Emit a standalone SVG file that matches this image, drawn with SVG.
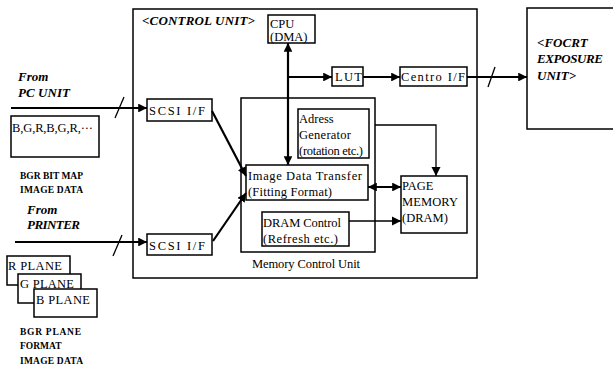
<svg xmlns="http://www.w3.org/2000/svg" width="613" height="370" viewBox="0 0 613 370">
<style>
.box{fill:#fff;stroke:#000;stroke-width:1.5}
.t{font-family:"Liberation Serif","Times New Roman",serif;font-size:12.5px;fill:#000}
.ti{font-family:"Liberation Serif","Times New Roman",serif;font-size:13px;font-style:italic;font-weight:bold;fill:#000}
.tb{font-family:"Liberation Serif","Times New Roman",serif;font-size:9.5px;font-weight:bold;fill:#000}
.thick{stroke:#000;stroke-width:2.2;fill:none}
.thin{stroke:#000;stroke-width:1.3;fill:none}
</style>
<defs>
<marker id="a" viewBox="0 0 10 10" refX="10" refY="5" markerWidth="4" markerHeight="4" orient="auto-start-reverse" markerUnits="strokeWidth"><path d="M0,0 L10,5 L0,10 z" fill="#000"/></marker>
<marker id="b" viewBox="0 0 10 10" refX="10" refY="5" markerWidth="7" markerHeight="7" orient="auto-start-reverse" markerUnits="strokeWidth"><path d="M0,0 L10,5 L0,10 z" fill="#000"/></marker>
</defs>
<rect width="613" height="370" fill="#fff"/>

<g id="control-unit">
<rect class="box" x="133" y="9" width="344" height="269"/>
<text class="ti" x="142" y="25" textLength="113">&lt;CONTROL UNIT&gt;</text>
</g>
<g id="memory-control-unit">
<rect class="box" x="241" y="98" width="134" height="154"/>
<text class="t" x="252" y="268" textLength="108">Memory Control Unit</text>
</g>
<g id="cpu">
<rect class="box" x="268" y="15" width="47" height="28"/>
<text class="t" x="270" y="28">CPU</text>
<text class="t" x="270" y="41">(DMA)</text>
</g>
<g id="lut">
<rect class="box" x="332" y="67" width="31" height="19"/>
<text class="t" x="335" y="81" textLength="27">LUT</text>
</g>
<g id="centro">
<rect class="box" x="400" y="67" width="67" height="19"/>
<text class="t" x="401" y="81" font-size="11.5" textLength="64">Centro I/F</text>
</g>
<g id="focrt">
<rect class="box" x="527" y="8" width="90" height="121"/>
<text class="ti" x="537" y="47">&lt;FOCRT</text>
<text class="ti" x="537" y="63" textLength="66">EXPOSURE</text>
<text class="ti" x="537" y="80">UNIT&gt;</text>
</g>
<g id="address-generator">
<rect class="box" x="298" y="109" width="71" height="49"/>
<text class="t" x="299" y="123" font-size="12">Adress</text>
<text class="t" x="299" y="139" font-size="12" textLength="52">Generator</text>
<text class="t" x="299" y="155" font-size="12" textLength="64">(rotation etc.)</text>
</g>
<g id="image-data-transfer">
<rect class="box" x="246" y="165" width="122" height="35"/>
<text class="t" x="248" y="180" textLength="114">Image Data Transfer</text>
<text class="t" x="248" y="196" textLength="84">(Fitting Format)</text>
</g>
<g id="dram-control">
<rect class="box" x="262" y="212" width="87" height="34"/>
<text class="t" x="263" y="227" textLength="78">DRAM Control</text>
<text class="t" x="263" y="243" textLength="75">(Refresh etc.)</text>
</g>
<g id="page-memory">
<rect class="box" x="401" y="176" width="66" height="57"/>
<text class="t" x="402" y="190">PAGE</text>
<text class="t" x="402" y="206" textLength="56">MEMORY</text>
<text class="t" x="402" y="222">(DRAM)</text>
</g>
<g id="scsi1">
<rect class="box" x="147" y="99" width="65" height="22"/>
<text class="t" x="149" y="115" textLength="56">SCSI I/F</text>
</g>
<g id="scsi2">
<rect class="box" x="147" y="234" width="65" height="21"/>
<text class="t" x="149" y="250" textLength="56">SCSI I/F</text>
</g>
<g id="pc-source">
<text class="ti" x="18" y="81">From</text>
<text class="ti" x="18" y="97" textLength="52">PC UNIT</text>
<rect class="box" x="11" y="116" width="88" height="41"/>
<text class="t" x="12" y="132" font-size="12" textLength="81">B,G,R,B,G,R,···</text>
<text class="tb" x="20" y="179" textLength="63">BGR BIT MAP</text>
<text class="tb" x="20" y="193" textLength="63">IMAGE DATA</text>
</g>
<g id="printer-source">
<text class="ti" x="27" y="214">From</text>
<text class="ti" x="27" y="229" textLength="53">PRINTER</text>
<rect class="box" x="7" y="256" width="63" height="29"/>
<text class="t" x="8" y="270" font-size="13" textLength="54">R PLANE</text>
<rect class="box" x="18" y="274" width="63" height="29"/>
<text class="t" x="20" y="288" font-size="13" textLength="54">G PLANE</text>
<rect class="box" x="34" y="289" width="63" height="28"/>
<text class="t" x="36" y="304" font-size="13" textLength="54">B PLANE</text>
<text class="tb" x="20" y="335" textLength="61">BGR PLANE</text>
<text class="tb" x="20" y="349">FORMAT</text>
<text class="tb" x="20" y="364" textLength="63">IMAGE DATA</text>
</g>

<g id="connectors">
<line class="thick" x1="11" y1="108" x2="147" y2="108" marker-end="url(#a)"/>
<line class="thin" x1="115" y1="118" x2="124" y2="97"/>
<line class="thick" x1="15" y1="242" x2="147" y2="242" marker-end="url(#a)"/>
<line class="thin" x1="113" y1="256" x2="122" y2="235"/>
<line class="thick" x1="212" y1="111" x2="246" y2="176" marker-end="url(#a)"/>
<line class="thick" x1="213" y1="241" x2="246" y2="193" marker-end="url(#a)"/>
<line class="thick" x1="288" y1="43" x2="288" y2="165" marker-start="url(#a)" marker-end="url(#a)"/>
<line class="thick" x1="288" y1="77" x2="332" y2="77" marker-end="url(#a)"/>
<line class="thick" x1="363" y1="77" x2="400" y2="77" marker-end="url(#a)"/>
<line class="thick" x1="467" y1="77" x2="527" y2="77" marker-end="url(#a)"/>
<line class="thin" x1="488" y1="87" x2="495" y2="67"/>
<polyline class="thin" points="375,125 436,125 436,176" marker-end="url(#b)"/>
<line class="thick" x1="368" y1="187" x2="401" y2="187" marker-start="url(#a)" marker-end="url(#a)"/>
<line class="thin" x1="349" y1="221" x2="401" y2="221" marker-end="url(#b)"/>
</g>
</svg>
